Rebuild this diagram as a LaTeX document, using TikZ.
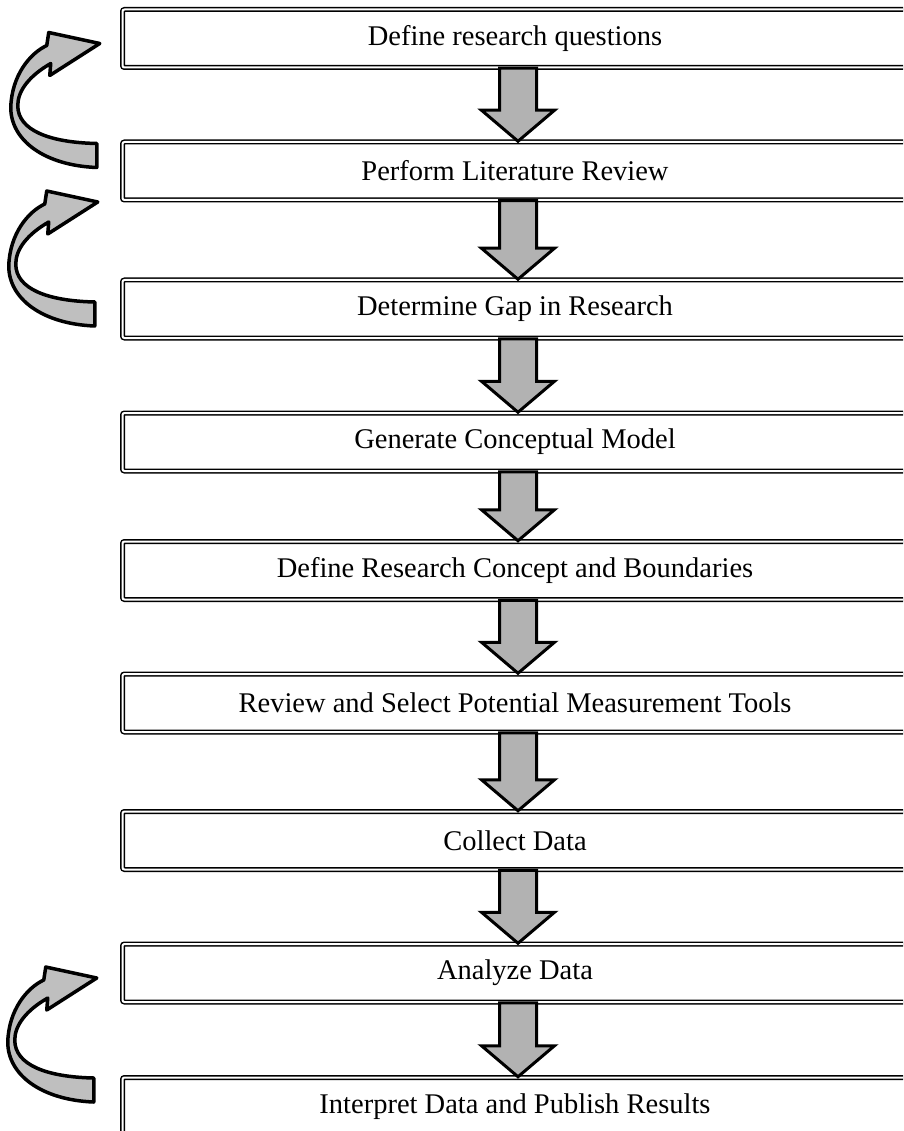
\documentclass[tikz,border=0pt]{standalone}
\usepackage{fontspec}
\setmainfont{Liberation Serif}
\usetikzlibrary{calc}

\begin{document}
\begin{tikzpicture}[x=1pt,y=-1pt,
  stagebox/.style={draw,double,line width=1.5pt,double distance=2pt,
    rounded corners=2pt,minimum width=785pt,minimum height=58pt,
    inner sep=0pt,font=\fontsize{28.5}{34}\selectfont},
  downarrow/.style={draw,line width=3pt,fill=black!30},
  looparrow/.style={draw,line width=3.5pt,fill=black!25,line join=round},
  loopback/.pic={
    \draw[looparrow] (0,0) -- (-50,32) -- (-49,20)
      .. controls (-70,32) and (-82,47) .. (-82,62)
      .. controls (-82,87) and (-50,99) .. (-3,100)
      -- (-3,124)
      .. controls (-55,122) and (-89,97) .. (-89,64)
      .. controls (-88,32) and (-70,10) .. (-53,2)
      -- (-51,-11) -- cycle;
  }]
\useasboundingbox (0,0) rectangle (903,1131);
\clip (0,0) rectangle (903,1131);

\node[stagebox] (define)  at (515,38.5)  {Define research questions};
\node[stagebox] (review)  at (515,171)   {Perform Literature Review};
\node[stagebox] (gap)     at (515,309)   {Determine Gap in Research};
\node[stagebox] (model)   at (515,442)   {Generate Conceptual Model};
\node[stagebox] (concept) at (515,570.5) {Define Research Concept and Boundaries};
\node[stagebox] (tools)   at (515,703)   {Review and Select Potential Measurement Tools};
\node[stagebox] (collect) at (515,840.5) {Collect Data};
\node[stagebox] (analyze) at (515,973)   {Analyze Data};
\node[stagebox] (publish) at (515,1106.5){Interpret Data and Publish Results};

% block arrows down the chain
\foreach \a/\b in {define/review,review/gap,gap/model,model/concept,
    concept/tools,tools/collect,collect/analyze,analyze/publish}{
  \path (\a.south) ++(3,0) coordinate (top)
        (\b.north) ++(3,0) coordinate (tip);
  \draw[downarrow] ($(top)+(-18.5,0)$) -- ($(tip)+(-18.5,-31)$)
    -- ($(tip)+(-36.5,-31)$) -- (tip) -- ($(tip)+(36.5,-31)$)
    -- ($(tip)+(18.5,-31)$) -- ($(top)+(18.5,0)$) -- cycle;
}

% feedback loops
\pic at ($(define.west)+(-22,5)$) {loopback};
\pic at ($(review.west)+(-24,31)$) {loopback};
\pic at ($(analyze.west)+(-25,5)$) {loopback};
\end{tikzpicture}
\end{document}
